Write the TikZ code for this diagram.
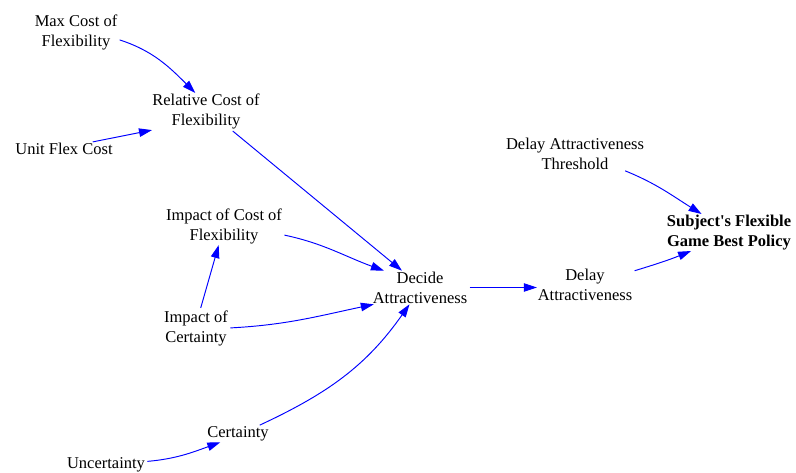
\documentclass[tikz,border=0pt]{standalone}
\usepackage{fontspec}
\setmainfont{Liberation Serif}
\usetikzlibrary{arrows.meta}
\begin{document}
\begin{tikzpicture}[x=1pt,y=-1pt,
  var/.style={align=center,inner sep=1pt,outer sep=0pt,
    font=\fontsize{16.5}{20}\selectfont},
  link/.style={draw={rgb,255:red,0;green,0;blue,255},line width=0.95pt,
    -{Triangle[length=13pt,width=8.5pt]},shorten <=1.5pt}]
\path[use as bounding box,fill=white] (0,0) rectangle (796,473);

% variables
\node[var] (max) at (76,32)  {Max Cost of\\Flexibility};
\node[var] (rel) at (206,111.5) {Relative Cost of\\Flexibility};
\node[var] (unit) at (64,149) {Unit Flex Cost};
\node[var] (thr) at (575,153.5) {Delay Attractiveness\\Threshold};
\node[var,font=\fontsize{16.5}{20}\selectfont\bfseries] (sub) at (729,232.5)
  {Subject\textquotesingle s Flexible\\Game Best Policy};
\node[var] (imc) at (224,226.5) {Impact of Cost of\\Flexibility};
\node[var] (dec) at (420,287.5) {Decide\\Attractiveness};
\node[var] (del) at (585,285) {Delay\\Attractiveness};
\node[var] (ice) at (196,328) {Impact of\\Certainty};
\node[var] (cer) at (238,434) {Certainty};
\node[var] (unc) at (106,465) {Uncertainty};

% causal links
\draw[link] (max.-10) to[out=-18,in=135] (rel.120);
\draw[link] (unit.14) -- (rel.199);
\draw[link] (rel.-36) -- (dec.137);
\draw[link] (imc.-8) to[out=-12,in=160] (dec.155);
\draw[link] (ice.77) -- (imc.-106);
\draw[link] (ice.0) to[out=3,in=-168] (dec.200);
\draw[link] (cer.22) to[out=25,in=-125] (dec.-122);
\draw[link] (unc.5) to[out=5,in=200] (cer.205);
\draw[link] (dec.east) -- (dec.east -| del.west);
\draw[link] (del.16) to[out=17,in=-158] (sub.206);
\draw[link] (thr.-19) to[out=-22,in=148] (sub.146);
\end{tikzpicture}
\end{document}
